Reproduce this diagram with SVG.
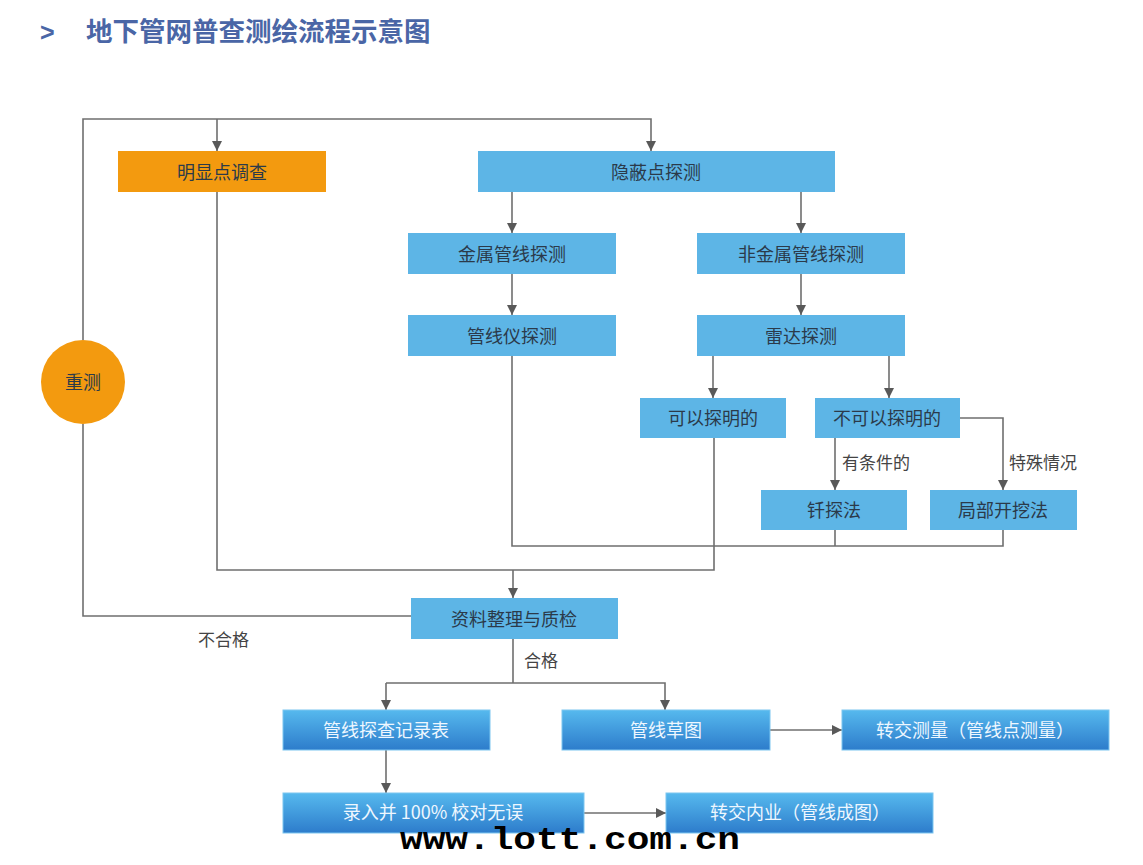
<svg xmlns="http://www.w3.org/2000/svg" width="1143" height="865" viewBox="0 0 1143 865">
<defs>
<linearGradient id="g" x1="0" y1="0" x2="0" y2="1">
<stop offset="0" stop-color="#56b9ee"/>
<stop offset="1" stop-color="#2d7ccb"/>
</linearGradient>
<marker id="a" viewBox="0 0 10 10" refX="10" refY="5" markerWidth="10" markerHeight="10" markerUnits="userSpaceOnUse" orient="auto">
<path d="M0,0 L10,5 L0,10 z" fill="#595959"/>
</marker>
</defs>
<style>
text{font-family:"Noto Sans CJK SC","Noto Sans",sans-serif;}
.t{font-size:18px;fill:#2b3a4a;text-anchor:middle;dominant-baseline:central;}
.w{font-size:18px;fill:#eef7ff;text-anchor:middle;dominant-baseline:central;}
.lb{font-size:17px;fill:#444;}
.b{fill:#5db5e6;}
.o{fill:#f39a0f;}
.gr{fill:url(#g);stroke:#7cc6f0;stroke-width:1;}
.c{fill:none;stroke:#6f6f6f;stroke-width:1.6;}
.ar{marker-end:url(#a);}
</style>
<rect width="1143" height="865" fill="#fff"/>
<text x="40" y="41" style="font-size:25px;font-weight:bold;fill:#4a66a6;font-family:'Liberation Sans',sans-serif">&gt;</text>
<text x="86" y="41" style="font-size:26.5px;font-weight:bold;fill:#4a66a6">地下管网普查测绘流程示意图</text>

<g id="connectors">
<polyline class="c ar" points="83,340 83,119 651,119 651,151"/>
<polyline class="c ar" points="217,119 217,151"/>
<polyline class="c" points="83,424 83,616 411,616"/>
<polyline class="c" points="217,192 217,570 714,570 714,438"/>
<polyline class="c ar" points="513,570 513,598"/>
<polyline class="c" points="512,356 512,546 1003,546 1003,530"/>
<polyline class="c" points="835,530 835,546"/>
<polyline class="c ar" points="512,192 512,233"/>
<polyline class="c ar" points="801,192 801,233"/>
<polyline class="c ar" points="512,274 512,315"/>
<polyline class="c ar" points="801,274 801,315"/>
<polyline class="c ar" points="713,356 713,398"/>
<polyline class="c ar" points="889,356 889,398"/>
<polyline class="c ar" points="835,438 835,490"/>
<polyline class="c ar" points="960,418 1003,418 1003,490"/>
<polyline class="c" points="513,639 513,683"/>
<polyline class="c ar" points="386,683 665,683 665,710"/>
<polyline class="c ar" points="386,683 386,710"/>
<polyline class="c ar" points="386,750 386,793"/>
<polyline class="c ar" points="770,730 842,730"/>
<polyline class="c ar" points="584,813 666,813"/>
<text class="lb" x="842" y="469">有条件的</text>
<text class="lb" x="1009" y="469">特殊情况</text>
<text class="lb" x="198" y="646">不合格</text>
<text class="lb" x="524" y="667">合格</text>
</g>

<g id="n-mingxian"><rect class="o" x="118" y="151" width="208" height="41"/><text class="t" x="222" y="171">明显点调查</text></g>
<g id="n-yinbi"><rect class="b" x="478" y="151" width="357" height="41"/><text class="t" x="656" y="171">隐蔽点探测</text></g>
<g id="n-jinshu"><rect class="b" x="408" y="233" width="208" height="41"/><text class="t" x="512" y="253">金属管线探测</text></g>
<g id="n-feijinshu"><rect class="b" x="697" y="233" width="208" height="41"/><text class="t" x="801" y="253">非金属管线探测</text></g>
<g id="n-guanxianyi"><rect class="b" x="408" y="315" width="208" height="41"/><text class="t" x="512" y="335">管线仪探测</text></g>
<g id="n-leida"><rect class="b" x="697" y="315" width="208" height="41"/><text class="t" x="801" y="335">雷达探测</text></g>
<g id="n-keyi"><rect class="b" x="640" y="398" width="146" height="40"/><text class="t" x="713" y="417">可以探明的</text></g>
<g id="n-bukeyi"><rect class="b" x="815" y="398" width="145" height="40"/><text class="t" x="887" y="417">不可以探明的</text></g>
<g id="n-qiantan"><rect class="b" x="761" y="490" width="146" height="40"/><text class="t" x="834" y="509">钎探法</text></g>
<g id="n-jubu"><rect class="b" x="930" y="490" width="147" height="40"/><text class="t" x="1003" y="509">局部开挖法</text></g>
<g id="n-zhijian"><rect class="b" x="411" y="598" width="207" height="41"/><text class="t" x="514" y="618">资料整理与质检</text></g>
<g id="n-chongce"><circle class="o" cx="83" cy="382" r="42"/><text class="t" x="83" y="381">重测</text></g>
<g id="n-jilubiao"><rect class="gr" x="283" y="710" width="207" height="40"/><text class="w" x="386" y="729">管线探查记录表</text></g>
<g id="n-caotu"><rect class="gr" x="562" y="710" width="208" height="40"/><text class="w" x="666" y="729">管线草图</text></g>
<g id="n-zhuanjiaoce"><rect class="gr" x="842" y="710" width="267" height="40"/><text class="w" x="975" y="729">转交测量（管线点测量）</text></g>
<g id="n-luru"><rect class="gr" x="283" y="793" width="301" height="40"/><text class="w" x="433" y="811">录入并 100% 校对无误</text></g>
<g id="n-neiye"><rect class="gr" x="666" y="793" width="267" height="40"/><text class="w" x="800" y="811">转交内业（管线成图）</text></g>

<text x="400" y="849" textLength="340" lengthAdjust="spacingAndGlyphs" style="font-family:'Liberation Mono',monospace;font-weight:bold;font-size:32px;fill:#000">www.lott.com.cn</text>
</svg>
